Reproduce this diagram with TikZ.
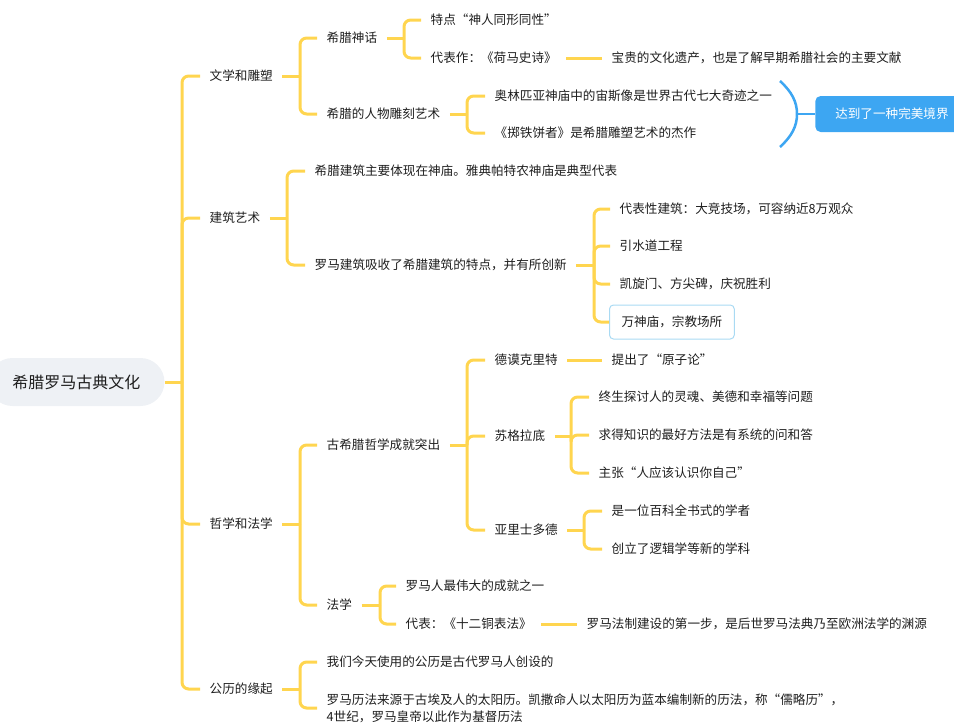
\documentclass[tikz,border=0pt]{standalone}
\usepackage{fontspec}
\setmainfont{Noto Sans CJK SC}
\definecolor{linkyellow}{HTML}{FFD54F}
\definecolor{sumblue}{HTML}{3DA6F2}
\definecolor{rootgray}{HTML}{EEF1F5}
\definecolor{paleblue}{HTML}{A9DAF3}
\definecolor{inktext}{HTML}{1E1E1E}

\begin{document}
\begin{tikzpicture}[x=0.75pt,y=-0.75pt,
    topic/.style={anchor=west,inner xsep=7.1pt,inner ysep=1pt,text=inktext,
      font=\fontsize{9.45pt}{12.75pt}\selectfont,text height=8.2pt,text depth=1pt},
    rootnode/.style={fill=rootgray,rounded corners=18pt,inner xsep=18pt,minimum height=36pt,
      text=inktext,font=\fontsize{12pt}{14pt}\selectfont,text height=10.5pt,text depth=1.4pt},
    boxtopic/.style={topic,draw=paleblue,line width=0.75pt,rounded corners=3pt,
      inner xsep=9pt,minimum height=25.5pt},
    sumtopic/.style={anchor=west,fill=sumblue,text=white,rounded corners=4pt,inner xsep=15pt,
      minimum height=27pt,font=\fontsize{9.45pt}{12.75pt}\selectfont,text height=8.2pt,text depth=1pt},
    link/.style={draw=linkyellow,line width=2.25pt},
    elbow/.style={link,rounded corners=5pt},
    sumbrace/.style={draw=sumblue,line width=1.9pt}
  ]
  \useasboundingbox (0,0) rectangle (954,725);

  % ROOT
  \node[rootnode] (root) at (76.5,382) {希腊罗马古典文化};

  % MAIN BRANCHES
  \node[topic] (wx) at (200,76)  {文学和雕塑};
  \node[topic] (jz) at (200,218) {建筑艺术};
  \node[topic] (zf) at (200,524) {哲学和法学};
  \node[topic] (gl) at (200,689) {公历的缘起};

  % LITERATURE AND SCULPTURE
  \node[topic] (shs) at (317,38)  {希腊神话};
  \node[topic] (rw)  at (317,114) {希腊的人物雕刻艺术};
  \node[topic] (td)  at (421,20)  {特点“神人同形同性”};
  \node[topic] (dbz) at (421,58)  {代表作：《荷马史诗》};
  \node[topic] (yc)  at (602,58)  {宝贵的文化遗产，也是了解早期希腊社会的主要文献};
  \node[topic] (zs)  at (485,96)  {奥林匹亚神庙中的宙斯像是世界古代七大奇迹之一};
  \node[topic] (zt)  at (485,133) {《掷铁饼者》是希腊雕塑艺术的杰作};
  \node[sumtopic] (dd) at (815,114) {达到了一种完美境界};

  % ARCHITECTURE
  \node[topic] (jg) at (305,171) {希腊建筑主要体现在神庙。雅典帕特农神庙是典型代表};
  \node[topic] (lm) at (305,265) {罗马建筑吸收了希腊建筑的特点，并有所创新};
  \node[topic] (db) at (610,209) {代表性建筑：大竞技场，可容纳近8万观众};
  \node[topic] (ys) at (610,246) {引水道工程};
  \node[topic] (kx) at (610,284) {凯旋门、方尖碑，庆祝胜利};
  \node[boxtopic] (ws) at (609,322) {万神庙，宗教场所};

  % PHILOSOPHY AND LAW
  \node[topic] (gx) at (317,445) {古希腊哲学成就突出};
  \node[topic] (fx) at (317,605) {法学};
  \node[topic] (dm) at (485,360) {德谟克里特};
  \node[topic] (sg) at (485,436) {苏格拉底};
  \node[topic] (yl) at (485,530) {亚里士多德};
  \node[topic] (yz) at (602,360) {提出了“原子论”};
  \node[topic] (z1) at (589,397) {终生探讨人的灵魂、美德和幸福等问题};
  \node[topic] (z2) at (589,435) {求得知识的最好方法是有系统的问和答};
  \node[topic] (z3) at (589,473) {主张“人应该认识你自己”};
  \node[topic] (y1) at (602,511) {是一位百科全书式的学者};
  \node[topic] (y2) at (602,549) {创立了逻辑学等新的学科};
  \node[topic] (f1) at (396,586) {罗马人最伟大的成就之一};
  \node[topic] (f2) at (396,624) {代表：《十二铜表法》};
  \node[topic] (f3) at (577,624) {罗马法制建设的第一步，是后世罗马法典乃至欧洲法学的渊源};

  % CALENDAR
  \node[topic] (gg) at (317,662) {我们今天使用的公历是古代罗马人创设的};
  \node[topic,align=left,text height=20.95pt] (lf) at (317,708)
    {罗马历法来源于古埃及人的太阳历。凯撒命人以太阳历为蓝本编制新的历法，称“儒略历”，\\
     4世纪，罗马皇帝以此作为基督历法};

  % BRACKETS
  \coordinate (k0) at (182,382);
  \coordinate (kwx) at (300,76);
  \coordinate (kjz) at (287,218);
  \coordinate (kzf) at (300,524);
  \coordinate (kgl) at (300,689);
  \coordinate (kshs) at (404,38);
  \coordinate (krw) at (467,114);
  \coordinate (klm) at (594,265);
  \coordinate (kgx) at (467,445);
  \coordinate (ksg) at (571,436);
  \coordinate (kyl) at (584,530);
  \coordinate (kfx) at (380,605);

  % CONNECTORS
  \draw[link] (root.east) -- (k0);
  \foreach \c in {wx,jz,zf,gl} \draw[elbow] (k0) |- (\c.west);

  \foreach \p/\kids in {wx/{shs,rw}, jz/{jg,lm}, zf/{gx,fx}, gl/{gg,lf},
      shs/{td,dbz}, rw/{zs,zt}, lm/{db,ys,kx,ws}, gx/{dm,sg,yl},
      sg/{z1,z2,z3}, yl/{y1,y2}, fx/{f1,f2}}{
    \draw[link] (\p.east) -- (k\p);
    \foreach \c in \kids \draw[elbow] (k\p) |- (\c.west);
  }

  \draw[link] (dbz.east) -- (yc.west);
  \draw[link] (dm.east) -- (yz.west);
  \draw[link] (f2.east) -- (f3.west);

  % SUMMARY
  \coordinate (bt) at (780,81);
  \coordinate (bm) at (797,114);
  \coordinate (bb) at (780,147);
  \draw[sumbrace] (bt) .. controls (792,92) and (797,102) .. (bm)
    .. controls (797,126) and (792,136) .. (bb);
  \draw[sumbrace] (bm) -- (dd.west);
\end{tikzpicture}
\end{document}
